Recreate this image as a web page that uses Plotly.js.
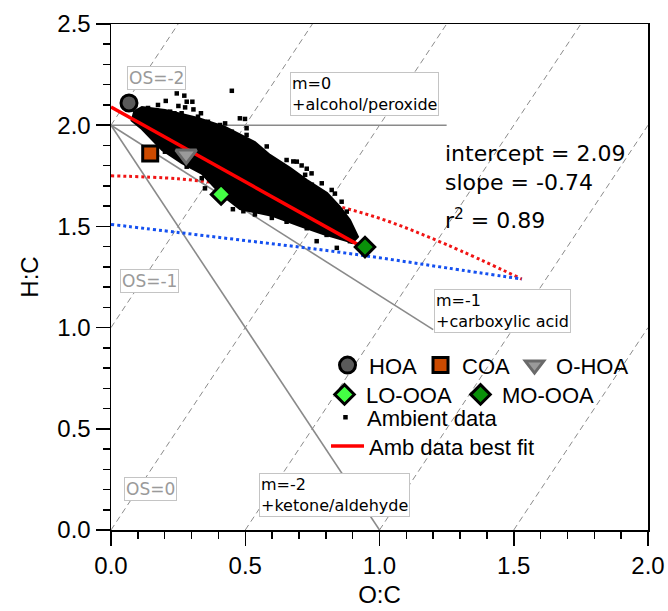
<!DOCTYPE html>
<html>
<head>
<meta charset="utf-8">
<script src="https://cdn.plot.ly/plotly-3.0.1.min.js"></script>
<style>html,body{margin:0;padding:0;background:#fff;}#chart{width:668px;height:611px;}</style>
</head>
<body>
<div id="chart"></div>
<script>
// ---- Oxidation-state (OS) reference lines: H:C = 2*O:C - OS ----
const osLabels = ["OS=-2", "OS=-1", "OS=0", "OS=1", "OS=2", "OS=3"];
const osX = [[0, 0.25], [0, 0.75], [0, 1.25], [0.5, 1.75], [1.0, 2.0], [1.5, 2.0]];
const osY = [[2, 2.5], [1, 2.5], [0, 2.5], [0, 2.5], [0, 2.0], [0, 1.0]];

// ---- Functional-group addition lines from (0,2) ----
const mLabels = ["m=0<br>+alcohol/peroxide", "m=-1<br>+carboxylic acid", "m=-2<br>+ketone/aldehyde"];
const mX = [[0, 1.25], [0, 1.2], [0, 1.0]];
const mY = [[2, 2], [2, 0.99], [2, 0]];

// ---- dotted curves ----
const redDotX = [0, 0.25, 0.5, 0.75, 1.0, 1.25, 1.53];
const redDotY = [1.75, 1.735, 1.695, 1.63, 1.54, 1.41, 1.24];
const blueDotX = [0, 0.25, 0.5, 0.75, 1.0, 1.25, 1.53];
const blueDotY = [1.51, 1.47, 1.43, 1.39, 1.345, 1.295, 1.24];

// ---- Ambient data: dense core outline + individual points around it ----
const cloudX = [0.082, 0.115, 0.201, 0.324, 0.425, 0.536, 0.592, 0.667, 0.730, 0.805, 0.853, 0.890, 0.920,
                0.898, 0.879, 0.790, 0.704, 0.603, 0.480, 0.413, 0.339, 0.264, 0.190, 0.115, 0.074];
const cloudY = [2.065, 2.090, 2.075, 2.036, 1.991, 1.917, 1.853, 1.789, 1.729, 1.665, 1.596, 1.532, 1.448,
                1.418, 1.428, 1.462, 1.502, 1.551, 1.586, 1.655, 1.759, 1.813, 1.877, 1.981, 2.026];
const ambX = [0.245, 0.273, 0.450, 0.204, 0.282, 0.303, 0.251, 0.276, 0.307, 0.236, 0.263, 0.335, 0.152, 0.170,
              0.278, 0.307, 0.480, 0.499, 0.425, 0.406, 0.350, 0.387, 0.505, 0.443, 0.474, 0.521, 0.580, 0.679,
              0.729, 0.834, 0.636, 0.599, 0.629, 0.710, 0.723, 0.748, 0.803, 0.853, 0.878, 0.890, 0.493, 0.536,
              0.599, 0.766, 0.841, 0.454, 0.108,
              0.654, 0.692, 0.747, 0.785, 0.822, 0.859, 0.878, 0.555, 0.654, 0.729, 0.803,
              0.138, 0.175, 0.220, 0.324, 0.361, 0.450, 0.505, 0.164, 0.201, 0.282, 0.338, 0.350];
const ambY = [2.157, 2.146, 2.170, 2.120, 2.116, 2.116, 2.095, 2.088, 2.078, 2.059, 2.059, 2.059, 2.072, 2.072,
              2.034, 2.026, 2.034, 2.031, 2.009, 2.001, 1.997, 1.977, 1.985, 1.928, 1.903, 1.886, 1.895, 1.821,
              1.785, 1.662, 1.780, 1.817, 1.796, 1.801, 1.755, 1.706, 1.616, 1.559, 1.493, 1.427, 1.575, 1.559,
              1.542, 1.427, 1.394, 1.585, 2.072,
              1.828, 1.820, 1.762, 1.713, 1.680, 1.622, 1.573, 1.573, 1.523, 1.491, 1.458,
              2.085, 2.100, 2.067, 2.042, 2.017, 1.968, 1.952, 1.952, 1.869, 1.795, 1.738, 1.688];

// ---- best fit ----
const fitX = [0, 0.92];
const fitY = [2.09, 1.41];
const fitText = ["intercept = 2.09", "slope = -0.74", "r<sup>2</sup> = 0.89"];

// ---- PMF factors ----
const factorNames = ["HOA", "COA", "O-HOA", "LO-OOA", "MO-OOA"];
const factorOC = [0.067, 0.146, 0.28, 0.41, 0.946];
const factorHC = [2.11, 1.86, 1.855, 1.658, 1.398];

// ---- axis ticks ----
const xTicks = [0, 0.5, 1.0, 1.5, 2.0];
const xTickText = ["0.0", "0.5", "1.0", "1.5", "2.0"];
const yTicks = [0, 0.5, 1.0, 1.5, 2.0, 2.5];
const yTickText = ["0.0", "0.5", "1.0", "1.5", "2.0", "2.5"];

const traces = [];
osX.forEach((xs, i) => traces.push({
  x: xs, y: osY[i], mode: "lines", showlegend: false, hoverinfo: "skip",
  line: {color: "#8c8c8c", width: 1, dash: "6px,4px"}
}));
mX.forEach((xs, i) => traces.push({
  x: xs, y: mY[i], mode: "lines", showlegend: false, hoverinfo: "skip",
  line: {color: "#8a8a8a", width: 1.6}
}));
traces.push({x: redDotX, y: redDotY, mode: "lines", showlegend: false, line: {color: "#f01414", width: 3, dash: "dot", shape: "spline"}});
traces.push({x: blueDotX, y: blueDotY, mode: "lines", showlegend: false, line: {color: "#1450f0", width: 3, dash: "dot", shape: "spline"}});
traces.push({x: cloudX, y: cloudY, mode: "lines", fill: "toself", fillcolor: "#000", showlegend: false,
  line: {color: "#000", width: 2}});
traces.push({x: ambX, y: ambY, mode: "markers", name: "Ambient data", legend: "legend3",
  marker: {symbol: "square", size: 4.5, color: "#000"}});
traces.push({x: fitX, y: fitY, mode: "lines", name: "Amb data best fit", legend: "legend4",
  line: {color: "#ff0000", width: 3.5}});

const fStyle = [
  {symbol: "circle", size: 16, color: "#5a5a5a", line: {color: "#000", width: 3}},
  {symbol: "square", size: 15, color: "#cc4a00", line: {color: "#000", width: 3}},
  {symbol: "triangle-down", size: 18, color: "#9a9a9a", line: {color: "#6a6a6a", width: 3}},
  {symbol: "diamond", size: 15, color: "#44ff44", line: {color: "#000", width: 3}},
  {symbol: "diamond", size: 15, color: "#0a900a", line: {color: "#000", width: 3}}
];
const fLegend = ["legend", "legend", "legend", "legend2", "legend2"];
const fWidth = [45, 46, 80, 88, 110];
factorNames.forEach((n, i) => traces.push({
  x: [factorOC[i]], y: [factorHC[i]], mode: "markers", name: n, legend: fLegend[i],
  legendwidth: fWidth[i], marker: fStyle[i]
}));

const legFont = {family: "Liberation Sans, Arial, sans-serif", size: 22, color: "#000"};
const legBase = {orientation: "h", xanchor: "left", yanchor: "top", bgcolor: "rgba(0,0,0,0)", font: legFont,
  borderwidth: 0, tracegroupgap: 0, itemwidth: 33};

const annFont = {family: "DejaVu Sans, sans-serif", size: 16, color: "#000"};
const osFont = {family: "DejaVu Sans, sans-serif", size: 17, color: "#9a9a9a"};
const annotations = [
  {x: 0.667, y: 2.264, text: mLabels[0]},
  {x: 1.203, y: 1.191, text: mLabels[1]},
  {x: 0.551, y: 0.281, text: mLabels[2]}
].map(a => Object.assign(a, {xref: "x", yref: "y", xanchor: "left", yanchor: "top", align: "left",
  showarrow: false, font: annFont, bgcolor: "#fff", bordercolor: "#c4c4c4", borderwidth: 1, borderpad: 1}));
[
  {x: 0.06, y: 2.293, text: osLabels[0]},
  {x: 0.035, y: 1.29, text: osLabels[1]},
  {x: 0.05, y: 0.26, text: osLabels[2]}
].forEach(a => annotations.push(Object.assign(a, {xref: "x", yref: "y", xanchor: "left", yanchor: "top",
  showarrow: false, font: osFont, bgcolor: "#fff", bordercolor: "#c4c4c4", borderwidth: 1, borderpad: 1})));
const fitFont = {family: "DejaVu Sans, sans-serif", size: 22, color: "#000"};
annotations.push({x: 1.236, y: 1.93, xref: "x", yref: "y", xanchor: "left", yanchor: "top", align: "left",
  showarrow: false, text: fitText.slice(0, 2).join("<br>"), font: fitFont});
annotations.push({x: 1.236, y: 1.537, xref: "x", yref: "y", xanchor: "left", yanchor: "middle", align: "left",
  showarrow: false, text: fitText[2], font: fitFont});

const tickFont = {family: "Liberation Sans, Arial, sans-serif", size: 24, color: "#000"};
const axisBase = {showgrid: false, zeroline: false, showline: true, linecolor: "#000", linewidth: 1.5,
  mirror: true, ticks: "outside", ticklen: 14, tickwidth: 1.5, tickcolor: "#000", tickfont: tickFont,
  minor: {ticks: "outside", ticklen: 7, tickwidth: 1.5, tickcolor: "#000", dtick: 0.1, showgrid: false}};

const layout = {
  width: 668, height: 611,
  margin: {l: 111, r: 20, t: 24, b: 81},
  paper_bgcolor: "#fff", plot_bgcolor: "#fff",
  showlegend: true,
  xaxis: Object.assign({}, axisBase, {range: [0, 2], tickvals: xTicks, ticktext: xTickText,
    title: {text: "O:C", font: tickFont, standoff: 8}}),
  yaxis: Object.assign({}, axisBase, {range: [0, 2.5], tickvals: yTicks, ticktext: yTickText,
    title: {text: "H:C", font: tickFont, standoff: 12}}),
  legend: Object.assign({}, legBase, {x: 0.4004, y: 0.367}),
  legend2: Object.assign({}, legBase, {x: 0.3948, y: 0.309}),
  legend3: Object.assign({}, legBase, {x: 0.3966, y: 0.264}),
  legend4: Object.assign({}, legBase, {x: 0.4004, y: 0.207}),
  annotations: annotations
};

Plotly.newPlot("chart", traces, layout, {displayModeBar: false, staticPlot: true});
</script>
</body>
</html>
